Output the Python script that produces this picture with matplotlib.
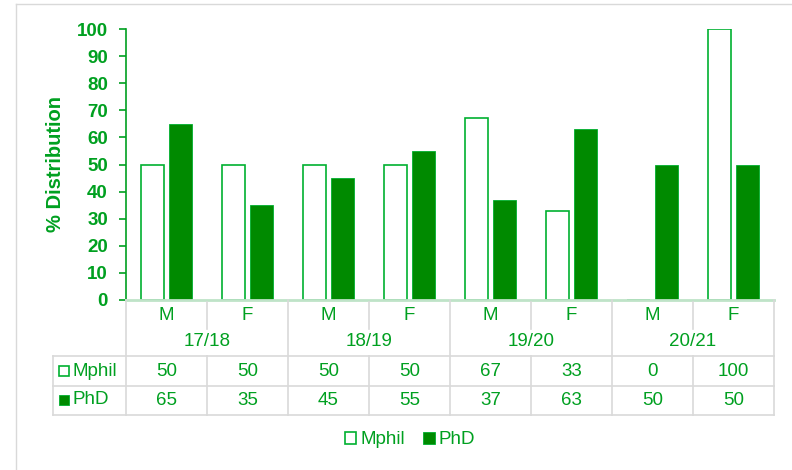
import matplotlib
matplotlib.use("Agg")
import matplotlib.pyplot as plt
from matplotlib.patches import Patch
from matplotlib.lines import Line2D
from matplotlib import transforms

plt.rcParams['font.family'] = ['Liberation Sans', 'DejaVu Sans']

years = ["17/18", "18/19", "19/20", "20/21"]
sexes = ["M", "F"]
mphil = [50, 50, 50, 50, 67, 33, 0, 100]
phd = [65, 35, 45, 55, 37, 63, 50, 50]
yticks = [0, 10, 20, 30, 40, 50, 60, 70, 80, 90, 100]

GREEN_TXT = '#00a020'
GREEN_FILL = '#008a00'
GREEN_EDGE = '#00b030'
GRID = '#d9d9d9'

W, H = 792, 470
fig = plt.figure(figsize=(W/100, H/100), dpi=100)

def fx(px): return px / W
def fy(py): return 1 - py / H

# outer border
fig.add_artist(Line2D([fx(16), fx(16)], [fy(4), fy(470)], color='#d9d9d9', lw=1))
fig.add_artist(Line2D([fx(16), fx(792)], [fy(4), fy(4)], color='#d9d9d9', lw=1))

left, right, top, bottom = 126, 774, 29, 300
ax = fig.add_axes([fx(left), fy(bottom), fx(right) - fx(left), fy(top) - fy(bottom)])

n = len(mphil)
xs = list(range(n))
bw = 0.28
off = 0.172
ax.bar([x - off for x in xs], mphil, width=bw, facecolor='white', edgecolor=GREEN_EDGE, linewidth=1.2, zorder=3)
ax.bar([x + off for x in xs], phd, width=bw, facecolor=GREEN_FILL, edgecolor=GREEN_EDGE, linewidth=0.6, zorder=3)

ax.set_xlim(-0.5, n - 0.5)
ax.set_ylim(0, 100)
ax.set_yticks(yticks)
ax.set_yticklabels([str(v) for v in yticks], fontsize=13.5, fontweight='bold', color=GREEN_TXT)
ax.tick_params(axis='y', direction='out', length=5, color=GREEN_TXT, width=1.2, pad=8)
ax.set_xticks([])
for s in ['top', 'right']:
    ax.spines[s].set_visible(False)
ax.spines['left'].set_color(GREEN_TXT)
ax.spines['left'].set_linewidth(1.2)
ax.spines['bottom'].set_color('#bfe3c8')
ax.spines['bottom'].set_linewidth(2)
ax.spines['bottom'].set_zorder(4)
ax.set_ylabel('% Distribution', fontsize=14.5, fontweight='bold', color=GREEN_TXT)
ax.yaxis.set_label_coords((65 - left) / (right - left), 0.5)

# table
tr = transforms.blended_transform_factory(ax.transData, fig.transFigure)
def hline(x0, x1, py):
    fig.add_artist(Line2D([x0, x1], [fy(py), fy(py)], transform=tr, color=GRID, lw=1.2))
def vline(x, py0, py1):
    fig.add_artist(Line2D([x, x], [fy(py0), fy(py1)], transform=tr, color=GRID, lw=1.2))

xleft = -0.5 - (left - 53) / 81.0
row_cat, row_year, r_top, r_mid, r_bot = 315, 341, 356, 386, 415
for i in range(n + 1):
    xb = i - 0.5
    if i % 2 == 0:
        vline(xb, bottom, r_bot)
    else:
        vline(xb, bottom + 2, 329)
        vline(xb, r_top, r_bot)
vline(xleft, r_top, r_bot)
hline(xleft, n - 0.5, r_top)
hline(xleft, n - 0.5, r_mid)
hline(xleft, n - 0.5, r_bot)

fs = 13.5
for i in range(n):
    fig.text(i, fy(row_cat), sexes[i % 2], transform=tr, ha='center', va='center', fontsize=fs, color=GREEN_TXT)
    fig.text(i, fy((r_top + r_mid) / 2), str(mphil[i]), transform=tr, ha='center', va='center', fontsize=fs, color=GREEN_TXT)
    fig.text(i, fy((r_mid + r_bot) / 2), str(phd[i]), transform=tr, ha='center', va='center', fontsize=fs, color=GREEN_TXT)
for j, y in enumerate(years):
    fig.text(2 * j + 0.5, fy(row_year), y, transform=tr, ha='center', va='center', fontsize=fs, color=GREEN_TXT)

# row labels with markers
fig.add_artist(Line2D([fx(64)], [fy(371)], marker='s', markersize=7, markerfacecolor='white',
                      markeredgecolor=GREEN_EDGE, markeredgewidth=1.2, linestyle='none'))
fig.text(fx(73), fy(371), 'Mphil', ha='left', va='center', fontsize=fs, color=GREEN_TXT)
fig.add_artist(Line2D([fx(64)], [fy(400)], marker='s', markersize=7, markerfacecolor=GREEN_FILL,
                      markeredgecolor=GREEN_EDGE, markeredgewidth=0.6, linestyle='none'))
fig.text(fx(73), fy(400), 'PhD', ha='left', va='center', fontsize=fs, color=GREEN_TXT)

# legend
handles = [Patch(facecolor='white', edgecolor=GREEN_EDGE, linewidth=1.2),
           Patch(facecolor=GREEN_FILL, edgecolor=GREEN_EDGE, linewidth=0.6)]
leg = fig.legend(handles, ['Mphil', 'PhD'], loc='center', bbox_to_anchor=(fx(410), fy(440)),
                 ncol=2, frameon=False, fontsize=fs, handlelength=0.6, handleheight=0.6,
                 handletextpad=0.2, columnspacing=1.0, labelcolor=GREEN_TXT)

fig.savefig('out.png', dpi=100)
